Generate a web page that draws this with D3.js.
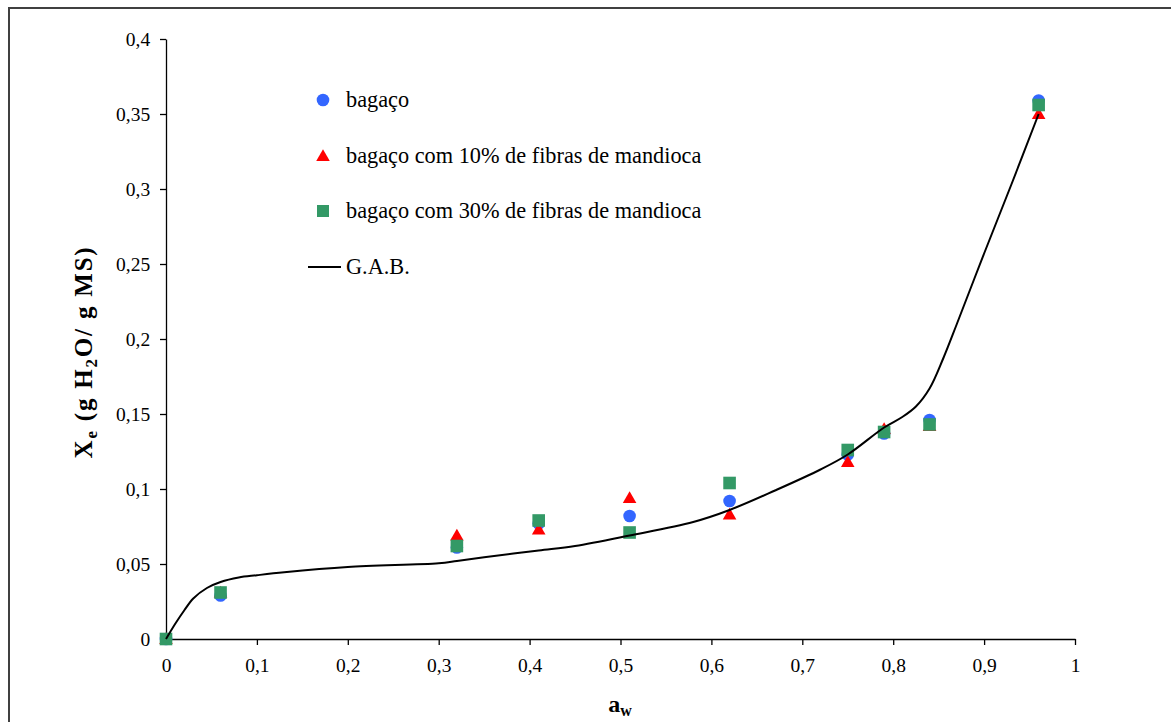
<!DOCTYPE html>
<html>
<head>
<meta charset="utf-8">
<script src="https://cdn.jsdelivr.net/npm/d3@7"></script>
<style>
  body { margin: 0; background: #fff; }
  svg { display: block; font-family: "Liberation Serif", "Times New Roman", serif; }
</style>
</head>
<body>
<div id="chart"></div>
<script>
// water activity points measured
var aw = [0, 0.06, 0.32, 0.41, 0.51, 0.62, 0.75, 0.79, 0.84, 0.96];
var bagaco = [0, 0.029, 0.061, 0.077, 0.082, 0.092, 0.123, 0.137, 0.146, 0.359];
var bagaco10 = [0, 0.031, 0.069, 0.073, 0.094, 0.083, 0.118, 0.140, 0.142, 0.350];
var bagaco30 = [0, 0.031, 0.062, 0.079, 0.071, 0.104, 0.126, 0.138, 0.143, 0.356];

// G.A.B. model curve
var gabAw = [0, 0.01, 0.02, 0.03, 0.045, 0.06, 0.08, 0.1, 0.13, 0.2, 0.3, 0.32, 0.35, 0.41, 0.45, 0.51, 0.58, 0.62, 0.67, 0.72, 0.75, 0.79, 0.81, 0.825, 0.84, 0.855, 0.87, 0.9, 0.93, 0.96];
var gabXe = [0, 0.010, 0.019, 0.027, 0.034, 0.038, 0.041, 0.0425, 0.0445, 0.048, 0.0505, 0.052, 0.0545, 0.059, 0.062, 0.069, 0.078, 0.086, 0.099, 0.113, 0.123, 0.141, 0.148, 0.155, 0.167, 0.187, 0.210, 0.257, 0.303, 0.350];

var xTicks = [0, 0.1, 0.2, 0.3, 0.4, 0.5, 0.6, 0.7, 0.8, 0.9, 1];
var yTicks = [0, 0.05, 0.1, 0.15, 0.2, 0.25, 0.3, 0.35, 0.4];

var legendLabels = ["bagaço", "bagaço com 10% de fibras de mandioca", "bagaço com 30% de fibras de mandioca", "G.A.B."];

var width = 1171, height = 722;
var margin = {left: 166, right: 96, top: 39, bottom: 83};

var svg = d3.select("#chart").append("svg")
    .attr("width", width)
    .attr("height", height);

// outer frame (runs off the right and bottom edges)
svg.append("rect")
    .attr("x", 9).attr("y", 8)
    .attr("width", 1180).attr("height", 730)
    .attr("fill", "none")
    .attr("stroke", "#404040")
    .attr("stroke-width", 2);

var x = d3.scaleLinear().domain([0, 1]).range([margin.left, width - margin.right]);
var y = d3.scaleLinear().domain([0, 0.4]).range([height - margin.bottom, margin.top]);

var fmt = function(d) { return String(+d.toFixed(2)).replace(".", ","); };

var xAxis = svg.append("g")
    .attr("transform", "translate(0," + y(0) + ")")
    .call(d3.axisBottom(x).tickValues(xTicks).tickFormat(fmt).tickSize(6).tickSizeOuter(0));
var yAxis = svg.append("g")
    .attr("transform", "translate(" + x(0) + ",0)")
    .call(d3.axisLeft(y).tickValues(yTicks).tickFormat(fmt).tickSize(6).tickSizeOuter(0));

[xAxis, yAxis].forEach(function(g) {
    g.select(".domain").attr("stroke", "#000").attr("stroke-width", 1.3);
    g.selectAll(".tick line").attr("stroke", "#000").attr("stroke-width", 1.3);
    g.selectAll("text").attr("font-family", "Liberation Serif").attr("font-size", 19.5).attr("fill", "#000");
});
xAxis.selectAll("text").attr("dy", "1.25em");
yAxis.selectAll("text").attr("dx", "-0.35em");

// axis titles
var xt = svg.append("text")
    .attr("x", 620).attr("y", 712)
    .attr("text-anchor", "middle")
    .attr("font-weight", "bold").attr("font-size", 24);
xt.append("tspan").text("a");
xt.append("tspan").attr("font-size", 16).attr("dy", 4).text("w");

var yt = svg.append("text")
    .attr("transform", "translate(92,352) rotate(-90)")
    .attr("text-anchor", "middle")
    .attr("letter-spacing", 1.8)
    .attr("font-weight", "bold").attr("font-size", 25);
yt.append("tspan").text("X");
yt.append("tspan").attr("font-size", 17).attr("dy", 5).text("e");
yt.append("tspan").attr("dy", -5).text(" (g H");
yt.append("tspan").attr("font-size", 17).attr("dy", 5).text("2");
yt.append("tspan").attr("dy", -5).text("O/ g MS)");

// series
var colors = {bagaco: "#3366FF", b10: "#FF0000", b30: "#339966"};

svg.append("g").selectAll("circle")
    .data(aw.map(function(d, i) { return [d, bagaco[i]]; }))
    .enter().append("circle")
    .attr("cx", function(d) { return x(d[0]); })
    .attr("cy", function(d) { return y(d[1]); })
    .attr("r", 6.3)
    .attr("fill", colors.bagaco);

var tri = d3.symbol().type(d3.symbolTriangle).size(80);
svg.append("g").selectAll("path")
    .data(aw.map(function(d, i) { return [d, bagaco10[i]]; }))
    .enter().append("path")
    .attr("d", tri)
    .attr("transform", function(d) { return "translate(" + x(d[0]) + "," + (y(d[1]) + 1) + ")"; })
    .attr("fill", colors.b10);

svg.append("g").selectAll("rect")
    .data(aw.map(function(d, i) { return [d, bagaco30[i]]; }))
    .enter().append("rect")
    .attr("x", function(d) { return x(d[0]) - 6.3; })
    .attr("y", function(d) { return y(d[1]) - 6.3; })
    .attr("width", 12.6).attr("height", 12.6)
    .attr("fill", colors.b30);

var line = d3.line()
    .x(function(d) { return x(d[0]); })
    .y(function(d) { return y(d[1]); })
    .curve(d3.curveCatmullRom.alpha(0.5));

svg.append("path")
    .datum(gabAw.map(function(d, i) { return [d, gabXe[i]]; }))
    .attr("d", line)
    .attr("fill", "none")
    .attr("stroke", "#000")
    .attr("stroke-width", 2);

// legend
var lg = svg.append("g").attr("font-size", 22.3);
var ly = [100, 156, 211, 267];
lg.append("circle").attr("cx", 323).attr("cy", ly[0]).attr("r", 6.3).attr("fill", colors.bagaco);
lg.append("path").attr("d", tri).attr("transform", "translate(323," + (ly[1] + 1) + ")").attr("fill", colors.b10);
lg.append("rect").attr("x", 317).attr("y", ly[2] - 6).attr("width", 12).attr("height", 12).attr("fill", colors.b30);
lg.append("line").attr("x1", 308).attr("x2", 341).attr("y1", ly[3]).attr("y2", ly[3]).attr("stroke", "#000").attr("stroke-width", 2);
lg.selectAll("text")
    .data(legendLabels)
    .enter().append("text")
    .attr("x", 346)
    .attr("y", function(d, i) { return ly[i] + 7; })
    .text(function(d) { return d; });
</script>
</body>
</html>
